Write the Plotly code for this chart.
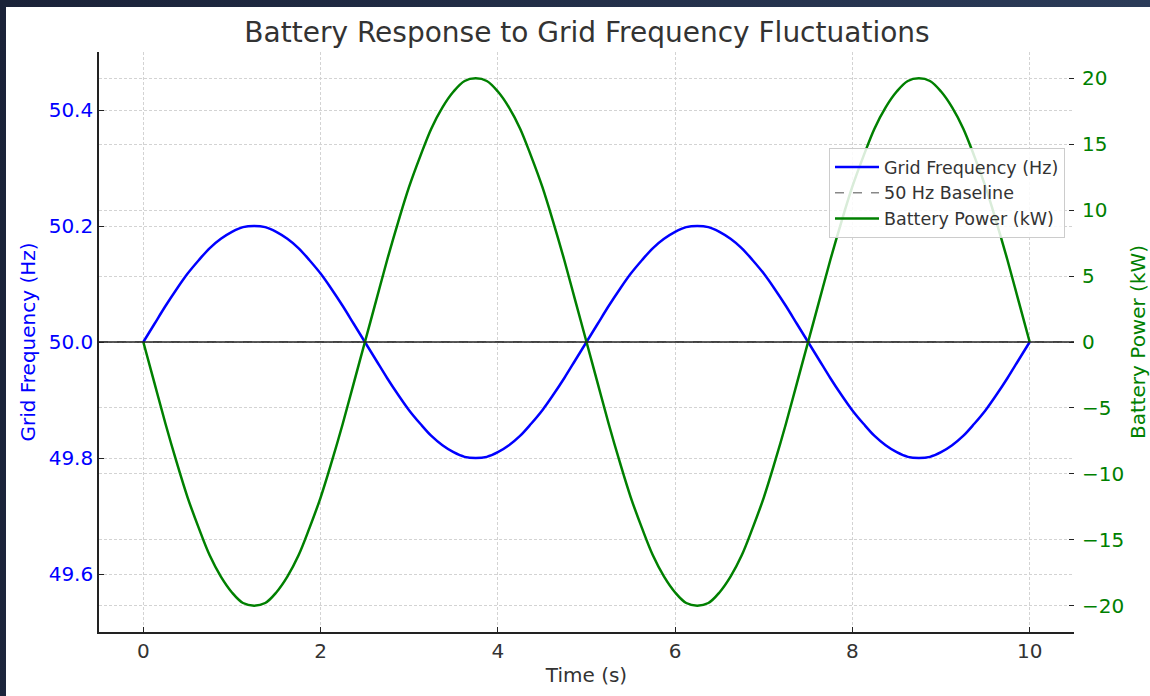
import plotly.graph_objects as go

# ---- data ----
time_s = [0.0, 0.125, 0.25, 0.375, 0.5, 0.625, 0.75, 0.875, 1.0, 1.125, 1.25, 1.375, 1.5, 1.625, 1.75, 1.875,
          2.0, 2.125, 2.25, 2.375, 2.5, 2.625, 2.75, 2.875, 3.0, 3.125, 3.25, 3.375, 3.5, 3.625, 3.75, 3.875,
          4.0, 4.125, 4.25, 4.375, 4.5, 4.625, 4.75, 4.875, 5.0, 5.125, 5.25, 5.375, 5.5, 5.625, 5.75, 5.875,
          6.0, 6.125, 6.25, 6.375, 6.5, 6.625, 6.75, 6.875, 7.0, 7.125, 7.25, 7.375, 7.5, 7.625, 7.75, 7.875,
          8.0, 8.125, 8.25, 8.375, 8.5, 8.625, 8.75, 8.875, 9.0, 9.125, 9.25, 9.375, 9.5, 9.625, 9.75, 9.875,
          10.0]
grid_freq_hz = [50.000, 50.031, 50.062, 50.091, 50.118, 50.141, 50.162, 50.178, 50.190, 50.198,
                50.200, 50.198, 50.190, 50.178, 50.162, 50.141, 50.118, 50.091, 50.062, 50.031,
                50.000, 49.969, 49.938, 49.909, 49.882, 49.859, 49.838, 49.822, 49.810, 49.802,
                49.800, 49.802, 49.810, 49.822, 49.838, 49.859, 49.882, 49.909, 49.938, 49.969,
                50.000, 50.031, 50.062, 50.091, 50.118, 50.141, 50.162, 50.178, 50.190, 50.198,
                50.200, 50.198, 50.190, 50.178, 50.162, 50.141, 50.118, 50.091, 50.062, 50.031,
                50.000, 49.969, 49.938, 49.909, 49.882, 49.859, 49.838, 49.822, 49.810, 49.802,
                49.800, 49.802, 49.810, 49.822, 49.838, 49.859, 49.882, 49.909, 49.938, 49.969,
                50.000]
battery_kw = [0.0, -3.1, -6.2, -9.1, -11.8, -14.1, -16.2, -17.8, -19.0, -19.8,
              -20.0, -19.8, -19.0, -17.8, -16.2, -14.1, -11.8, -9.1, -6.2, -3.1,
              0.0, 3.1, 6.2, 9.1, 11.8, 14.1, 16.2, 17.8, 19.0, 19.8,
              20.0, 19.8, 19.0, 17.8, 16.2, 14.1, 11.8, 9.1, 6.2, 3.1,
              0.0, -3.1, -6.2, -9.1, -11.8, -14.1, -16.2, -17.8, -19.0, -19.8,
              -20.0, -19.8, -19.0, -17.8, -16.2, -14.1, -11.8, -9.1, -6.2, -3.1,
              0.0, 3.1, 6.2, 9.1, 11.8, 14.1, 16.2, 17.8, 19.0, 19.8,
              20.0, 19.8, 19.0, 17.8, 16.2, 14.1, 11.8, 9.1, 6.2, 3.1,
              0.0]
baseline_hz = 50.0
x_ticks = [0, 2, 4, 6, 8, 10]
freq_ticks = [49.6, 49.8, 50.0, 50.2, 50.4]
power_ticks = [-20, -15, -10, -5, 0, 5, 10, 15, 20]

W, H = 1150, 696
ML, MR, MT, MB = 99, 76, 52, 64
FONT = "DejaVu Sans"
TXT = "#333333"
BLUE = "#0000ff"
GREEN = "#008000"
GRID = "#d3d3d3"
GRIDDASH = "3px,2px"


def px_x(p):
    return (p - ML) / (W - ML - MR)


def px_y(p):
    return 1 - (p - MT) / (H - MT - MB)


fig = go.Figure()
fig.add_trace(go.Scatter(x=time_s, y=grid_freq_hz, mode="lines", name="Grid Frequency (Hz)",
                         line=dict(color=BLUE, width=2.5, shape="spline", smoothing=1.0), yaxis="y",
                         legendrank=1))
fig.add_trace(go.Scatter(x=time_s, y=battery_kw, mode="lines", name="Battery Power (kW)",
                         line=dict(color=GREEN, width=2.5, shape="spline", smoothing=1.0), yaxis="y2",
                         legendrank=3))

shapes = []
# white page area; the dark window frame (top and left) is the page background showing through
shapes.append(dict(type="rect", xref="paper", yref="paper", x0=px_x(6), x1=px_x(W + 4),
                   y0=px_y(H + 4), y1=px_y(7), line=dict(width=0), fillcolor="white", layer="below"))
# 50 Hz baseline (dashed gray)
shapes.append(dict(type="line", xref="x domain", yref="y", x0=0, x1=1, y0=baseline_hz, y1=baseline_hz,
                   line=dict(color="#888888", width=1.5, dash="dash"), layer="below",
                   showlegend=True, name="50 Hz Baseline", legendrank=2))
# zero line on battery axis
shapes.append(dict(type="line", xref="x domain", yref="y2", x0=0, x1=1, y0=0, y1=0,
                   line=dict(color="#222222", width=1.6), layer="above"))

fig.update_layout(
    width=W, height=H, autosize=False,
    margin=dict(l=ML, r=MR, t=MT, b=MB, autoexpand=False),
    paper_bgcolor="rgba(0,0,0,0)", plot_bgcolor="white",
    font=dict(family=FONT, color=TXT, size=20),
    title=dict(text="Battery Response to Grid Frequency Fluctuations", x=587 / W, xanchor="center",
               y=1 - 32 / H, yanchor="middle", font=dict(size=28, color=TXT, family=FONT)),
    xaxis=dict(range=[-0.5, 10.5], tickvals=x_ticks, showgrid=True, gridcolor=GRID, griddash=GRIDDASH,
               gridwidth=1, zeroline=False, showline=True, linecolor="#222222", linewidth=1.6,
               ticks="inside", ticklen=5, tickcolor="#222222", tickfont=dict(size=20, color=TXT),
               automargin=False,
               title=dict(text="Time (s)", font=dict(size=20, color=TXT), standoff=6)),
    yaxis=dict(range=[49.5, 50.5], tickvals=freq_ticks, tickformat=".1f", showgrid=True,
               gridcolor=GRID, griddash=GRIDDASH, gridwidth=1, zeroline=False, showline=True,
               linecolor="#222222", linewidth=1.6, ticks="inside", ticklen=5, tickcolor="#222222",
               tickfont=dict(size=20, color=BLUE), automargin=False,
               title=dict(text="Grid Frequency (Hz)", font=dict(size=20, color=BLUE), standoff=8)),
    yaxis2=dict(range=[-22, 22], tickvals=power_ticks, overlaying="y", side="right", showgrid=True,
                gridcolor=GRID, griddash=GRIDDASH, gridwidth=1, zeroline=False, showline=False,
                ticks="inside", ticklen=5, tickcolor="#222222", tickfont=dict(size=20, color=GREEN),
                ticklabelstandoff=7, automargin=False,
                title=dict(text="Battery Power (kW)", font=dict(size=20, color=GREEN), standoff=16)),
    legend=dict(x=px_x(829), y=px_y(148), xanchor="left", yanchor="top", itemwidth=44,
                bgcolor="rgba(255,255,255,0.85)", bordercolor="#cccccc", borderwidth=1,
                font=dict(size=17.5, color=TXT, family=FONT)),
    shapes=shapes,
)

fig.write_html(
    "out.html", config={"displayModeBar": False},
    post_script=("document.documentElement.style.background='linear-gradient(100deg,#1a2238,#2d3e5c)';"
                 "document.body.style.background='transparent';"
                 "document.body.style.margin='0';document.body.style.overflow='hidden';"
                 "window.scrollTo(0,0);"))
